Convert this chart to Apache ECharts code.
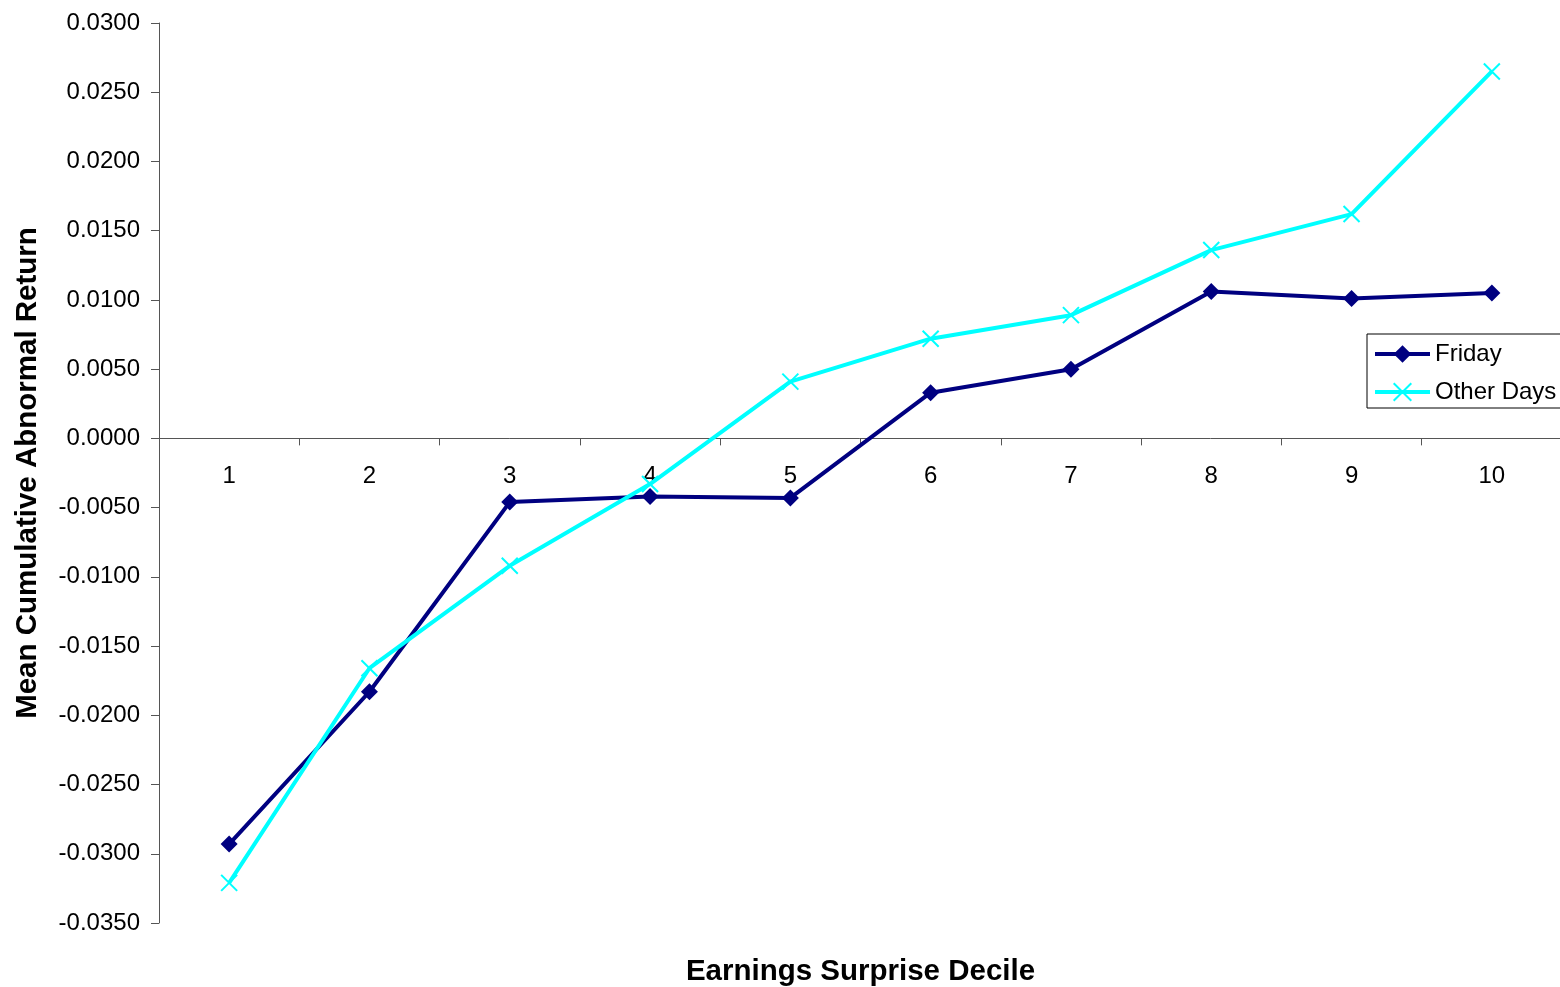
<!DOCTYPE html>
<html>
<head>
<meta charset="utf-8">
<script src="https://cdn.jsdelivr.net/npm/echarts@6/dist/echarts.min.js"></script>
<style>
html,body{margin:0;padding:0;background:#fff;}
#chart{width:1560px;height:987px;}
</style>
</head>
<body>
<div id="chart"></div>
<script>
const categories = ['1','2','3','4','5','6','7','8','9','10'];
const friday = [-0.0293, -0.0183, -0.0046, -0.0042, -0.0043, 0.0033, 0.0050, 0.0106, 0.0101, 0.0105];
const otherDays = [-0.0321, -0.0166, -0.0092, -0.0033, 0.0041, 0.0072, 0.0089, 0.0136, 0.0162, 0.0265];
const yTicks = {min: -0.035, max: 0.03, interval: 0.005};
const xTitle = 'Earnings Surprise Decile';
const yTitle = 'Mean Cumulative Abnormal Return';

const FONT = 'Liberation Sans, Arial, sans-serif';
const GRID = {left: 159, right: -2, top: 23, bottom: 64};
const H = 987;
const gridH = H - GRID.top - GRID.bottom;
// distance of value 0 from grid bottom, so the category axis sits on the zero line
const zeroOffset = (0 - yTicks.min) / (yTicks.max - yTicks.min) * gridH;

const chart = echarts.init(document.getElementById('chart'), null, {renderer:'canvas'});
const crossPath = 'path://M0,0L10,10M10,0L0,10';

chart.setOption({
  animation: false,
  backgroundColor: '#ffffff',
  textStyle: {fontFamily: FONT, color: '#000'},
  grid: Object.assign({containLabel: false, outerBoundsMode: 'none'}, GRID),
  legend: {
    orient: 'vertical',
    left: 1367,
    top: 334,
    padding: [6, 8, 2, 6],
    itemGap: 10,
    itemWidth: 55,
    itemHeight: 22,
    borderColor: '#000',
    borderWidth: 1,
    backgroundColor: '#fff',
    textStyle: {fontFamily: FONT, fontSize: 24, color: '#000', lineHeight: 28},
    data: [
      {name: 'Friday', lineStyle: {width: 4}},
      {name: 'Other Days', lineStyle: {width: 4}}
    ]
  },
  xAxis: {
    type: 'category',
    data: categories,
    boundaryGap: true,
    position: 'bottom',
    offset: -zeroOffset,
    name: xTitle,
    nameLocation: 'middle',
    nameGap: 518,
    nameTextStyle: {fontFamily: FONT, fontSize: 29.5, fontWeight: 'bold', color: '#000'},
    axisLine: {onZero: false, lineStyle: {color: '#555', width: 1}},
    axisTick: {show: true, inside: false, length: 7, alignWithLabel: false, lineStyle: {color: '#555'}},
    axisLabel: {fontFamily: FONT, fontSize: 24, color: '#000', margin: 26},
    splitLine: {show: false}
  },
  yAxis: {
    type: 'value',
    min: yTicks.min,
    max: yTicks.max,
    interval: yTicks.interval,
    name: yTitle,
    nameLocation: 'middle',
    nameGap: 116,
    nameTextStyle: {fontFamily: FONT, fontSize: 29.5, fontWeight: 'bold', color: '#000'},
    axisLine: {show: true, lineStyle: {color: '#555', width: 1}},
    axisTick: {show: true, inside: false, length: 8, lineStyle: {color: '#555'}},
    axisLabel: {fontFamily: FONT, fontSize: 24, color: '#000', margin: 19, padding: [3, 0, 0, 0],
      formatter: v => v.toFixed(4)},
    splitLine: {show: false}
  },
  series: [
    {
      name: 'Friday',
      type: 'line',
      data: friday,
      symbol: 'diamond',
      symbolSize: 17,
      showAllSymbol: true,
      lineStyle: {color: '#000080', width: 4},
      itemStyle: {color: '#000080'}
    },
    {
      name: 'Other Days',
      type: 'line',
      data: otherDays,
      symbol: crossPath,
      symbolSize: 16,
      showAllSymbol: true,
      lineStyle: {color: '#00FFFF', width: 4},
      itemStyle: {color: '#00FFFF', borderColor: '#00FFFF', borderWidth: 2}
    }
  ]
});
</script>
</body>
</html>
